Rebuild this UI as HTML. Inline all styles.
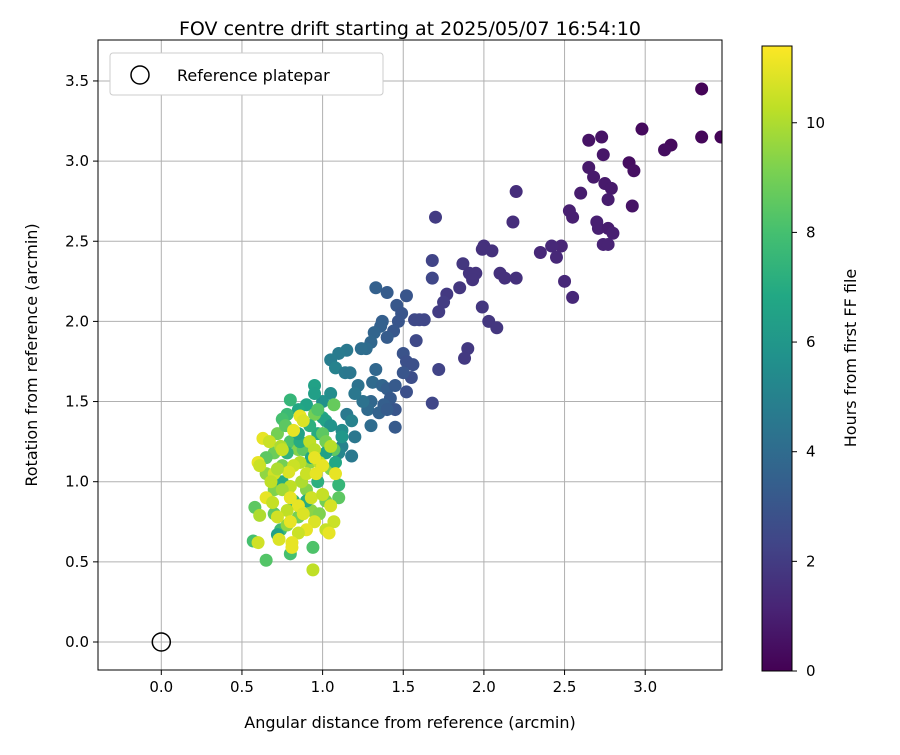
<!DOCTYPE html>
<html><head><meta charset="utf-8"><style>
body{margin:0;background:#fff;font-family:"Liberation Sans","DejaVu Sans",sans-serif}
svg text{font-family:"DejaVu Sans","Liberation Sans",sans-serif}
</style></head><body>
<svg id="c" width="900" height="750"></svg>
<script>
const xTicks=[0.0,0.5,1.0,1.5,2.0,2.5,3.0];
const yTicks=[0.0,0.5,1.0,1.5,2.0,2.5,3.0,3.5];
const cTicks=[0,2,4,6,8,10];
const xs=[3.35,2.98,3.35,3.47,3.16,3.12,2.65,2.73,2.74,2.65,2.9,2.93,2.68,2.75,2.79,2.6,2.77,2.92,2.53,2.55,2.7,2.71,2.77,2.8,2.74,2.77,2.2,2.18,2.48,2.42,2.35,2.45,2.5,2.55,2.0,1.99,2.05,1.87,1.91,1.95,1.93,2.1,2.13,2.2,1.85,1.99,1.77,1.75,1.72,2.03,2.08,1.9,1.88,1.7,1.68,1.68,1.63,1.6,1.57,1.58,1.72,1.68,1.33,1.4,1.52,1.46,1.49,1.47,1.37,1.36,1.44,1.4,1.32,1.3,1.27,1.24,1.5,1.52,1.56,1.55,1.52,1.5,
1.15,1.1,1.05,1.08,1.14,1.17,1.22,1.33,1.31,1.37,1.4,1.45,1.42,1.38,1.3,1.28,1.35,1.45,1.4,1.3,1.45,1.2,1.18,1.12,1.1,1.15,1.25,1.2,1.05,1.0,0.95,0.95,0.9,0.85,0.8,0.78,0.75,1.0,1.02,1.07,1.05,1.12,1.18,0.97,
0.58,0.57,0.65,0.8,0.94,0.7,0.65,0.72,0.77,0.8,0.95,1.0,1.02,1.07,1.05,1.1,1.1,0.9,0.85,0.75,0.65,0.7,0.7,0.74,0.72,0.78,0.85,0.93,0.98,1.02,0.92,0.88,0.86,0.78,0.75,0.82,0.9,0.97,1.08,1.12,1.02,0.92,0.85,0.97,0.93,
0.63,0.67,0.86,0.88,0.82,0.74,0.6,0.61,0.7,0.92,0.95,0.98,1.0,0.95,0.87,0.9,0.8,0.75,0.65,0.69,0.8,0.85,0.88,0.93,1.0,1.05,1.07,1.02,1.04,0.95,0.9,0.85,0.78,0.72,0.8,0.73,0.81,0.81,0.6,0.61,0.94,0.96,1.05,1.08,0.75,0.86,0.82,0.79,0.68,0.72];
const ys=[3.45,3.2,3.15,3.15,3.1,3.07,3.13,3.15,3.04,2.96,2.99,2.94,2.9,2.86,2.83,2.8,2.76,2.72,2.69,2.65,2.62,2.58,2.58,2.55,2.48,2.48,2.81,2.62,2.47,2.47,2.43,2.4,2.25,2.15,2.47,2.45,2.44,2.36,2.3,2.3,2.26,2.3,2.27,2.27,2.21,2.09,2.17,2.12,2.06,2.0,1.96,1.83,1.77,2.65,2.38,2.27,2.01,2.01,2.01,1.88,1.7,1.49,2.21,2.18,2.16,2.1,2.05,2.0,2.0,1.97,1.94,1.9,1.93,1.87,1.83,1.83,1.8,1.75,1.73,1.65,1.56,1.68,
1.82,1.8,1.76,1.71,1.68,1.68,1.6,1.7,1.62,1.6,1.58,1.6,1.52,1.48,1.5,1.45,1.43,1.45,1.45,1.35,1.34,1.28,1.16,1.22,1.18,1.42,1.5,1.55,1.55,1.5,1.6,1.55,1.48,1.45,1.51,1.42,1.39,1.4,1.38,1.48,1.35,1.32,1.38,1.3,
0.84,0.63,0.51,0.55,0.59,1.18,1.15,1.3,1.35,1.25,1.42,1.3,1.25,1.2,1.08,0.98,0.9,0.95,1.2,1.1,1.05,0.95,0.8,0.7,0.67,0.73,0.78,0.82,0.8,0.88,1.12,1.2,1.25,1.18,1.0,0.88,0.88,1.0,1.12,1.28,1.18,1.35,1.3,1.45,1.15,
1.27,1.25,1.41,1.38,1.32,1.22,1.12,1.1,1.05,1.25,1.2,1.12,1.1,1.15,1.0,1.05,0.97,0.95,0.9,0.87,0.9,0.85,0.8,0.9,0.92,0.85,0.75,0.7,0.68,0.75,0.7,0.68,0.82,0.78,0.75,0.64,0.62,0.59,0.62,0.79,0.45,1.05,1.22,1.05,1.2,1.12,1.1,1.06,1.0,1.08];
const hours=[0.1,0.3,0.2,0.1,0.3,0.4,0.6,0.6,0.7,0.8,0.4,0.5,0.8,0.8,0.8,0.9,0.9,0.6,1.0,1.0,1.0,1.0,0.9,1.0,1.1,1.1,1.5,1.5,1.2,1.3,1.3,1.3,1.3,1.3,1.6,1.6,1.6,1.8,1.7,1.7,1.7,1.6,1.6,1.6,1.8,1.8,1.9,2.0,2.0,1.8,1.8,1.9,1.9,2.0,2.3,2.4,2.4,2.4,2.5,2.5,2.3,2.4,3.5,3.3,3.0,3.1,3.0,3.0,3.4,3.5,3.1,3.3,3.7,3.8,4.0,4.1,2.9,2.8,2.8,2.7,2.8,3.0,
4.6,4.7,4.8,5.0,4.6,4.5,4.3,3.8,3.9,3.7,3.4,3.2,3.2,3.4,3.8,3.9,3.6,3.0,3.3,4.0,3.2,4.5,4.6,5.0,5.2,4.6,4.3,4.5,5.5,5.7,6.5,6.4,6.6,6.8,7.5,7.7,8.0,6.8,6.5,8.7,5.8,5.5,5.0,7.0,
8.5,8.0,8.3,8.0,8.2,8.8,8.5,9,8.5,8.2,9,8.5,9.0,8.5,9.2,7.5,8.5,9.3,9.3,9.0,9.5,9.2,8.5,7.8,6.5,9.5,9.0,9.4,9.2,9.0,9.5,8.5,7.0,7.3,7.0,7.5,7.0,7.2,6.8,6.0,6.5,7.2,6.5,8.3,6.8,
11,10.5,11,10.8,11,10,11,10.5,10.6,10.3,10.2,10.4,11,11,10,10.5,10.3,9.8,11,10.4,11,11,10.8,10.6,10.4,10.7,10.5,10.4,11,10.8,11,10.5,10.3,10.6,11,10.8,11,11,10.6,10.0,10.3,11,10.2,11,10.4,10.2,10.5,10.8,10.3,10];
const HMAX=11.4;
const L=98,R=722,T=40,B=670;
const sx=v=>161.3+v*161.3, sy=v=>642-v*160.3;
const cTop=46,cBot=671,cy=v=>cBot-(v/HMAX)*(cBot-cTop);
const vir=[[68,1,84],[72,36,117],[65,68,135],[53,95,141],[42,120,142],[33,145,140],[34,168,132],[68,191,112],[122,209,81],[189,223,38],[253,231,37]];
function col(h){let t=Math.max(0,Math.min(1,h/HMAX))*10,i=Math.min(9,Math.floor(t)),f=t-i,a=vir[i],b=vir[i+1];return `rgb(${a.map((v,k)=>Math.round(v+(b[k]-v)*f)).join(',')})`;}
const svg=document.getElementById('c'),NS='http://www.w3.org/2000/svg';
function el(tag,at,parent,txt){const e=document.createElementNS(NS,tag);for(const k in at)e.setAttribute(k,at[k]);if(txt!=null)e.textContent=txt;(parent||svg).appendChild(e);return e;}
// defs
const defs=el('defs',{});
const cp=el('clipPath',{id:'pc'},defs);el('rect',{x:L,y:T,width:R-L,height:B-T},cp);
const lg=el('linearGradient',{id:'vg',x1:0,y1:1,x2:0,y2:0},defs);
vir.forEach((c,i)=>el('stop',{offset:i/10,'stop-color':`rgb(${c.join(',')})`},lg));
// grid
xTicks.forEach(v=>{const g=el('line',{x1:sx(v),x2:sx(v),y1:T,y2:B,stroke:'#b0b0b0','stroke-width':1});
});
yTicks.forEach(v=>{const g=el('line',{x1:L,x2:R,y1:sy(v),y2:sy(v),stroke:'#b0b0b0','stroke-width':1});
});
// points
const pg=el('g',{'clip-path':'url(#pc)'});

xs.forEach((x,i)=>{const c=el('circle',{cx:sx(x),cy:sy(ys[i]),r:6.5,fill:col(hours[i])},pg);
});
const ref=el('circle',{cx:sx(0),cy:sy(0),r:9,fill:'none',stroke:'#000','stroke-width':1.5});

// frame
const fr=el('rect',{x:L,y:T,width:R-L,height:B-T,fill:'none',stroke:'#000','stroke-width':1});

xTicks.forEach(v=>{el('line',{x1:sx(v),x2:sx(v),y1:B,y2:B+5,stroke:'#000'});
const t=el('text',{x:sx(v),y:B+22,'font-size':15,'text-anchor':'middle'},null,v.toFixed(1));
});
yTicks.forEach(v=>{el('line',{x1:L-5,x2:L,y1:sy(v),y2:sy(v),stroke:'#000'});
const t=el('text',{x:L-9,y:sy(v)+5,'font-size':15,'text-anchor':'end'},null,v.toFixed(1));
});
// titles
let t=el('text',{x:410,y:35,'font-size':19,'text-anchor':'middle'},null,'FOV centre drift starting at 2025/05/07 16:54:10');

t=el('text',{x:410,y:728,'font-size':16,'text-anchor':'middle'},null,'Angular distance from reference (arcmin)');

t=el('text',{x:0,y:0,'font-size':16,'text-anchor':'middle',transform:'translate(37,355) rotate(-90)'},null,'Rotation from reference (arcmin)');

// legend
const lgd=el('g',{});
el('rect',{x:110,y:53,width:273,height:42,rx:3,fill:'#fff',stroke:'#ccc'},lgd);
el('circle',{cx:140,cy:75,r:9,fill:'none',stroke:'#000','stroke-width':1.5},lgd);
el('text',{x:177,y:81,'font-size':16},lgd,'Reference platepar');
// colorbar
const cb=el('rect',{x:762,y:cTop,width:30,height:cBot-cTop,fill:'url(#vg)',stroke:'#000','stroke-width':1});

cTicks.forEach(v=>{el('line',{x1:792,x2:797,y1:cy(v),y2:cy(v),stroke:'#000'});
const tt=el('text',{x:806,y:cy(v)+5,'font-size':15},null,String(v));
});
t=el('text',{x:0,y:0,'font-size':16,'text-anchor':'middle',transform:'translate(856,358) rotate(-90)'},null,'Hours from first FF file');

</script>
</body></html>
